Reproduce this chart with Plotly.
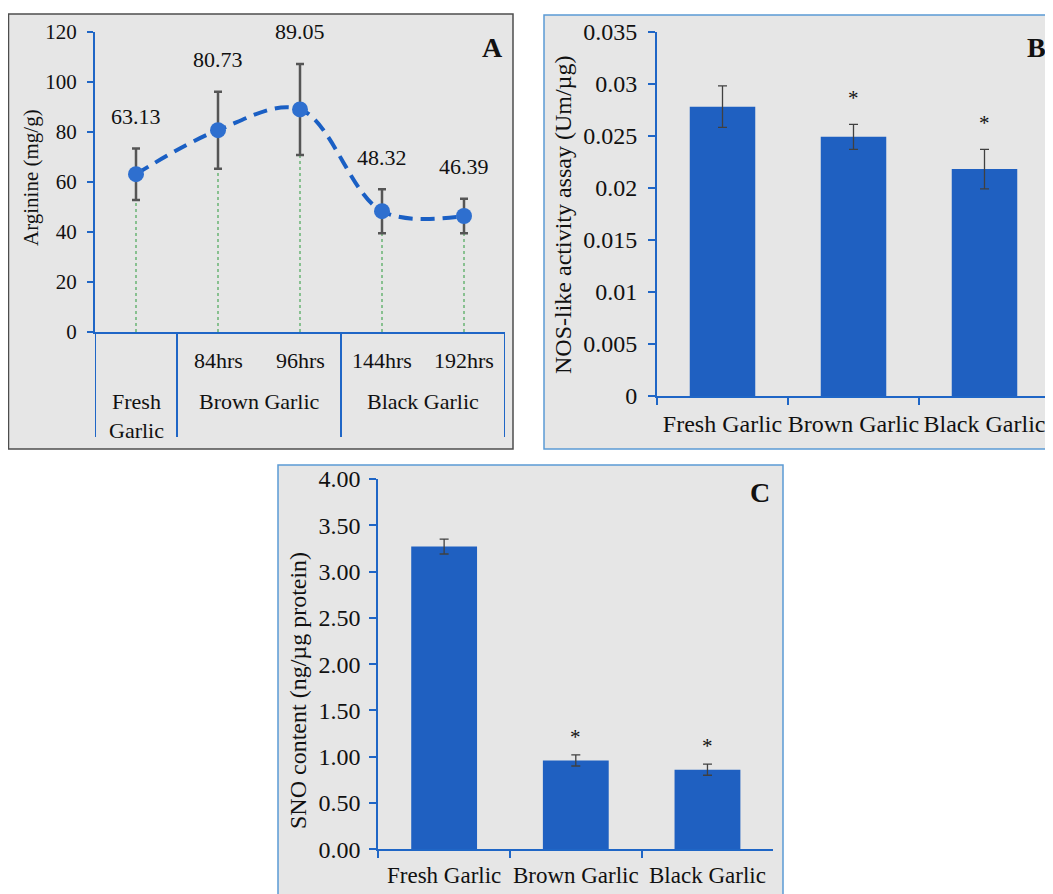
import plotly.graph_objects as go

# ---------------- data ----------------
# Panel A: Arginine
a_times = ["", "84hrs", "96hrs", "144hrs", "192hrs"]
a_groups = ["Fresh Garlic", "Brown Garlic", "Brown Garlic", "Black Garlic", "Black Garlic"]
a_values = [63.13, 80.73, 89.05, 48.32, 46.39]
a_errors = [10.3, 15.4, 18.2, 8.8, 6.9]
a_yticks = [0, 20, 40, 60, 80, 100, 120]

# Panel B: NOS-like activity
b_categories = ["Fresh Garlic", "Brown Garlic", "Black Garlic"]
b_values = [0.0278, 0.0249, 0.0218]
b_errors = [0.0020, 0.0012, 0.0019]
b_sig = ["", "*", "*"]
b_yticks = [0, 0.005, 0.01, 0.015, 0.02, 0.025, 0.03, 0.035]
b_yticklabels = ["0", "0.005", "0.01", "0.015", "0.02", "0.025", "0.03", "0.035"]

# Panel C: SNO content
c_categories = ["Fresh Garlic", "Brown Garlic", "Black Garlic"]
c_values = [3.27, 0.96, 0.86]
c_errors = [0.08, 0.06, 0.06]
c_sig = ["", "*", "*"]
c_yticks = [0, 0.5, 1.0, 1.5, 2.0, 2.5, 3.0, 3.5, 4.0]

# ---------------- style ----------------
OX, OY = 8, 8            # page body margin of the browser
W, H = 1045, 886         # figure size
FONT = "Liberation Serif, Times New Roman, serif"
AXIS_BLUE = "#1f66c6"
BG = "#e6e6e6"
BAR_BLUE = "#1f60c1"
TXT = "#111111"


def fx(px):
    return (px - OX) / W


def fy(py):
    return 1 - (py - OY) / H


def txt(size):
    return dict(family=FONT, size=size, color=TXT)


fig = go.Figure()

# ----- Panel A traces -----
a_x = list(range(len(a_values)))
drop_x, drop_y = [], []
for i, v in zip(a_x, a_values):
    drop_x += [i, i, None]
    drop_y += [0, v, None]
fig.add_trace(go.Scatter(x=drop_x, y=drop_y, mode="lines",
                         line=dict(color="#2a9a3a", width=1, dash="3px,3px"),
                         xaxis="x", yaxis="y", showlegend=False, hoverinfo="skip"))
fig.add_trace(go.Scatter(x=a_x, y=a_values, mode="lines",
                         line=dict(shape="spline", smoothing=1, color="#1a5fc4", width=4,
                                   dash="14px,8px"),
                         xaxis="x", yaxis="y", showlegend=False))
fig.add_trace(go.Scatter(x=a_x, y=a_values, mode="markers",
                         marker=dict(size=16, color="#2e6fcf"),
                         error_y=dict(type="data", array=a_errors, color="#555555",
                                      thickness=2.5, width=4),
                         xaxis="x", yaxis="y", showlegend=False))

# ----- Panel B traces -----
fig.add_trace(go.Bar(x=b_categories, y=b_values, width=0.5,
                     marker=dict(color=BAR_BLUE, line=dict(width=0)),
                     error_y=dict(type="data", array=b_errors, color="#404040",
                                  thickness=1.3, width=4.5),
                     xaxis="x2", yaxis="y2", showlegend=False))

# ----- Panel C traces -----
fig.add_trace(go.Bar(x=c_categories, y=c_values, width=0.5,
                     marker=dict(color=BAR_BLUE, line=dict(width=0)),
                     error_y=dict(type="data", array=c_errors, color="#404040",
                                  thickness=1.3, width=4.5),
                     xaxis="x3", yaxis="y3", showlegend=False))

# ---------------- shapes (panel boxes, dividers) ----------------
shapes = [
    dict(type="rect", xref="paper", yref="paper", x0=fx(8.5), x1=fx(513), y0=fy(449), y1=fy(14),
         line=dict(color="#4d4d4d", width=1.5), fillcolor=BG, layer="below"),
    dict(type="rect", xref="paper", yref="paper", x0=fx(544), x1=1.01, y0=fy(449), y1=fy(15),
         line=dict(color="#5b9bd5", width=1.5), fillcolor=BG, layer="below"),
    dict(type="rect", xref="paper", yref="paper", x0=fx(278), x1=fx(783), y0=-0.02, y1=fy(465),
         line=dict(color="#5b9bd5", width=1.5), fillcolor=BG, layer="below"),
]
# group dividers in panel A
bounds = [-0.5]
for i in range(1, len(a_groups)):
    if a_groups[i] != a_groups[i - 1]:
        bounds.append(i - 0.5)
bounds.append(len(a_groups) - 0.5)
for b in bounds:
    shapes.append(dict(type="line", xref="x", yref="paper", x0=b, x1=b,
                       y0=fy(437), y1=fy(332), line=dict(color=AXIS_BLUE, width=2)))

# ---------------- annotations ----------------
ann = []
# data labels panel A
for i, v, e in zip(a_x, a_values, a_errors):
    ann.append(dict(x=i, y=v + e, xref="x", yref="y", text=f"{v:.2f}", showarrow=False,
                    xanchor="center", yanchor="middle", yshift=32, font=txt(22)))
# sub-labels (times)
for i, t in zip(a_x, a_times):
    if t:
        ann.append(dict(x=i, y=fy(360), xref="x", yref="paper", text=t, showarrow=False,
                        xanchor="center", yanchor="middle", font=txt(22)))
# group labels
seen = []
for g in a_groups:
    if g not in seen:
        seen.append(g)
for g in seen:
    idx = [i for i, gg in enumerate(a_groups) if gg == g]
    xc = sum(idx) / len(idx)
    label = g.replace(" ", "<br>") if len(idx) == 1 else g
    ann.append(dict(x=xc, y=fy(387), xref="x", yref="paper", text=label, showarrow=False,
                    xanchor="center", yanchor="top", font=txt(22)))
# significance asterisks
for c, v, e, s in zip(b_categories, b_values, b_errors, b_sig):
    if s:
        ann.append(dict(x=c, y=v + e, xref="x2", yref="y2", text=s, showarrow=False,
                        xanchor="center", yanchor="bottom", yshift=12, font=txt(21)))
for c, v, e, s in zip(c_categories, c_values, c_errors, c_sig):
    if s:
        ann.append(dict(x=c, y=v + e, xref="x3", yref="y3", text=s, showarrow=False,
                        xanchor="center", yanchor="bottom", yshift=4, font=txt(21)))
# panel letters
ann.append(dict(x=fx(492), y=fy(47), xref="paper", yref="paper", text="<b>A</b>",
                xanchor="center", yanchor="middle", showarrow=False, font=txt(28)))
ann.append(dict(x=fx(1048), y=fy(47), xref="paper", yref="paper", text="<b>B</b>",
                xanchor="right", yanchor="middle", showarrow=False, font=txt(28)))
ann.append(dict(x=fx(760), y=fy(493), xref="paper", yref="paper", text="<b>C</b>",
                xanchor="center", yanchor="middle", showarrow=False, font=txt(28)))
# y-axis titles
ann.append(dict(x=fx(31), y=fy(178), xref="paper", yref="paper", text="Arginine (mg/g)",
                xanchor="center", yanchor="middle",
                textangle=-90, showarrow=False, font=txt(21)))
ann.append(dict(x=fx(563), y=fy(215), xref="paper", yref="paper",
                text="NOS-like activity assay (Um/µg)", xanchor="center", yanchor="middle",
                textangle=-90, showarrow=False, font=txt(24)))
ann.append(dict(x=fx(298), y=fy(691), xref="paper", yref="paper",
                text="SNO content (ng/µg protein)", xanchor="center", yanchor="middle",
                textangle=-90, showarrow=False, font=txt(24)))

tickfont_a = txt(21)
tickfont_bc = txt(24)

common = dict(showgrid=False, zeroline=False, automargin=False, showline=True,
              linecolor=AXIS_BLUE, linewidth=2, tickangle=0)

fig.update_layout(
    width=W, height=H,
    margin=dict(l=0, r=0, t=0, b=0, pad=0),
    paper_bgcolor="white",
    plot_bgcolor="rgba(0,0,0,0)",
    showlegend=False,
    shapes=shapes,
    annotations=ann,
    xaxis=dict(domain=[fx(95), fx(505)], range=[-0.5, 4.5], anchor="y",
               showticklabels=False, ticks="", **common),
    yaxis=dict(domain=[fy(332), fy(32)], range=[0, 120], anchor="x",
               ticks="outside", ticklen=6, tickwidth=2, tickcolor=AXIS_BLUE,
               tickvals=a_yticks, tickfont=tickfont_a, ticklabelstandoff=6, **common),
    xaxis2=dict(domain=[fx(657), fx(1050)], range=[-0.5, 2.5], anchor="y2", type="category",
                ticks="outside", tickson="boundaries", ticklen=7, tickwidth=2,
                tickcolor=AXIS_BLUE, tickfont=tickfont_bc, ticklabelstandoff=5, **common),
    yaxis2=dict(domain=[fy(396), fy(31.7)], range=[0, 0.035], anchor="x2",
                ticks="outside", ticklen=7, tickwidth=2, tickcolor=AXIS_BLUE,
                tickvals=b_yticks, ticktext=b_yticklabels, tickfont=tickfont_bc,
                ticklabelstandoff=6, **common),
    xaxis3=dict(domain=[fx(378.3), fx(773.3)], range=[-0.5, 2.5], anchor="y3", type="category",
                ticks="outside", tickson="boundaries", ticklen=7, tickwidth=2,
                tickcolor=AXIS_BLUE, tickfont=txt(23), ticklabelstandoff=4, **common),
    yaxis3=dict(domain=[fy(849.3), fy(479)], range=[0, 4], anchor="x3",
                ticks="outside", ticklen=7, tickwidth=2, tickcolor=AXIS_BLUE,
                tickvals=c_yticks, tickformat=".2f", tickfont=tickfont_bc,
                ticklabelstandoff=4, **common),
)

fig.write_html("out.html")
